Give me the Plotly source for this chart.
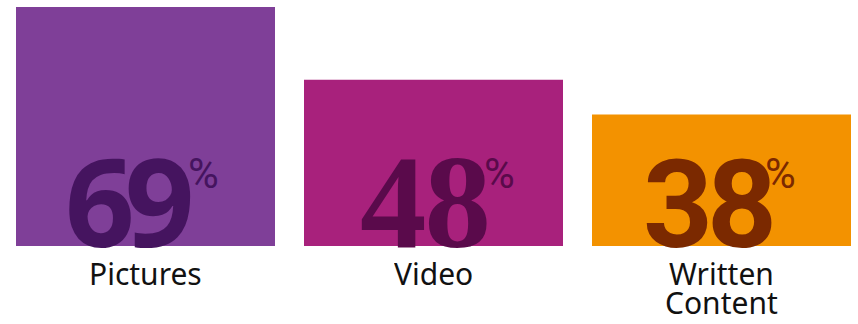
import plotly.graph_objects as go

# Share of respondents by content type
categories = ["Pictures", "Video", "Written<br>Content"]
values = [69, 48, 38]

bar_colors = ["#7F3F98", "#A8217C", "#F39200"]
number_colors = ["#45145F", "#5A0A4B", "#7B2900"]

# per-bar typography of the big figures: family, size, ascent (em), tracking on first digit
number_fonts = ["Noto Sans", "Liberation Serif", "Roboto"]
number_sizes = [122, 133, 122]
number_ascent = [1.069, 0.891, 0.928]
number_tracking = [-10, -2, -6]
number_xshift = [51, 59, 57]
pct_xshift = [40, 48, 41]

BAR_WIDTH = 259 / 288
LABEL_SIZE = 30
LABEL_LINE = 29

fig = go.Figure(
    go.Bar(
        x=list(range(len(categories))),
        y=values,
        width=BAR_WIDTH,
        marker=dict(color=bar_colors, line=dict(width=0)),
        hoverinfo="skip",
    )
)

annotations = []
for i, (cat, val) in enumerate(zip(categories, values)):
    digits = str(val)
    text = (f"<b><span style='letter-spacing:{number_tracking[i]}px'>{digits[:-1]}</span>"
            f"{digits[-1]}</b>")
    asc = number_ascent[i] * number_sizes[i]
    # big value figure, box trimmed just below the baseline
    annotations.append(dict(
        x=i, y=0, xref="x", yref="y",
        text=text,
        showarrow=False, xanchor="right", yanchor="bottom",
        height=round(asc) + 2, valign="top",
        xshift=number_xshift[i], yshift=-5,
        font=dict(family=number_fonts[i], size=number_sizes[i], color=number_colors[i]),
    ))
    # superscript percent sign
    annotations.append(dict(
        x=i, y=0, xref="x", yref="y",
        text="%",
        showarrow=False, xanchor="left", yanchor="top",
        xshift=pct_xshift[i], yshift=99,
        font=dict(family="Roboto", size=42, color=number_colors[i]),
    ))
    # category label, one annotation per line
    for j, line in enumerate(cat.split("<br>")):
        annotations.append(dict(
            x=i, y=0, xref="x", yref="y",
            text=line,
            showarrow=False, xanchor="center", yanchor="top",
            height=LABEL_LINE - 4, valign="middle",
            yshift=-13 - LABEL_LINE * j,
            font=dict(family="Noto Sans", size=LABEL_SIZE, color="#111111"),
        ))

fig.update_layout(
    width=858, height=324,
    margin=dict(l=16, r=7, t=7, b=78),
    paper_bgcolor="white", plot_bgcolor="white",
    showlegend=False,
    xaxis=dict(range=[-BAR_WIDTH / 2, 2 + BAR_WIDTH / 2], visible=False, fixedrange=True),
    yaxis=dict(range=[0, 69], visible=False, fixedrange=True),
    annotations=annotations,
)

fig.write_html("out.html", config={"displayModeBar": False})
